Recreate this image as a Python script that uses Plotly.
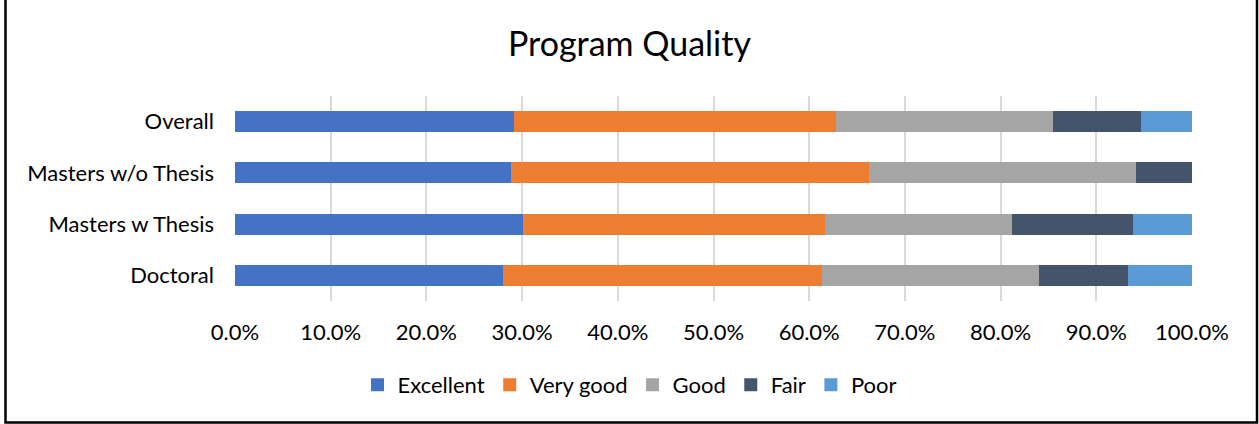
import plotly.graph_objects as go

categories = ["Doctoral", "Masters w Thesis", "Masters w/o Thesis", "Overall"]
series_names = ["Excellent", "Very good", "Good", "Fair", "Poor"]
excellent = [0.280, 0.301, 0.288, 0.292]
very_good = [0.333, 0.315, 0.375, 0.336]
good = [0.227, 0.196, 0.278, 0.227]
fair = [0.093, 0.126, 0.061, 0.092]
poor = [0.067, 0.062, 0.000, 0.053]
x_ticks = [0.0, 0.1, 0.2, 0.3, 0.4, 0.5, 0.6, 0.7, 0.8, 0.9, 1.0]

colors = ["#4472C4", "#ED7D31", "#A5A5A5", "#44546A", "#5B9BD5"]
values = [excellent, very_good, good, fair, poor]

FONT = "Lato"
W, H = 1259, 424
ML, MR, MT, MB = 235, 67, 96, 123
PW, PH = W - ML - MR, H - MT - MB

fig = go.Figure()
for name, vals, col in zip(series_names, values, colors):
    fig.add_trace(go.Bar(
        y=categories, x=vals, name=name, orientation="h",
        marker=dict(color=col, line=dict(width=0)),
        showlegend=False, legendgroup=name,
    ))
# legend entries with square swatches
for name, col in zip(series_names, colors):
    fig.add_trace(go.Scatter(
        x=[None], y=[None], mode="markers", name=name, legendgroup=name,
        marker=dict(symbol="square", size=13, color=col),
        showlegend=True,
    ))

def px_to_paper_x(px):
    return (px - ML) / PW

def px_to_paper_y(py):
    return (H - MB - py) / PH

x0 = px_to_paper_x(5.5)
x1 = px_to_paper_x(1257)
yb = px_to_paper_y(422.5)
yt = px_to_paper_y(-10)

fig.update_layout(
    width=W, height=H,
    margin=dict(l=ML, r=MR, t=MT, b=MB, autoexpand=False),
    barmode="stack",
    bargap=0.59,
    plot_bgcolor="white",
    paper_bgcolor="white",
    font=dict(family=FONT, color="#000000", size=22),
    title=dict(text="Program Quality", x=0.5, xref="container", xanchor="center",
               y=1 - 44 / H, yref="container", yanchor="middle",
               font=dict(family=FONT, size=34, color="#000000")),
    xaxis=dict(range=[0, 1.0], tickvals=x_ticks, tickformat=".1%",
               showgrid=True, gridcolor="#D9D9D9", gridwidth=1.5,
               zeroline=False, showline=False, ticks="",
               ticklabelstandoff=16,
               tickfont=dict(family=FONT, size=22, color="#000000")),
    yaxis=dict(showgrid=False, showline=False, ticks="", zeroline=False,
               ticklabelstandoff=20,
               tickfont=dict(family=FONT, size=22, color="#000000")),
    legend=dict(orientation="h", x=0.5, xref="container", xanchor="center",
                y=1 - 385 / H, yref="container", yanchor="middle",
                font=dict(family=FONT, size=22, color="#000000"),
                traceorder="normal", itemclick=False, itemdoubleclick=False,
                itemwidth=30),
    shapes=[dict(type="path", xref="paper", yref="paper",
                 path=f"M {x0},{yt} L {x0},{yb} L {x1},{yb} L {x1},{yt}",
                 line=dict(color="#000000", width=2.5), layer="above")],
    showlegend=True,
)

fig.write_html("out.html",
               config={"displayModeBar": False},
               post_script="document.body.style.margin='0';document.body.style.padding='0';")
